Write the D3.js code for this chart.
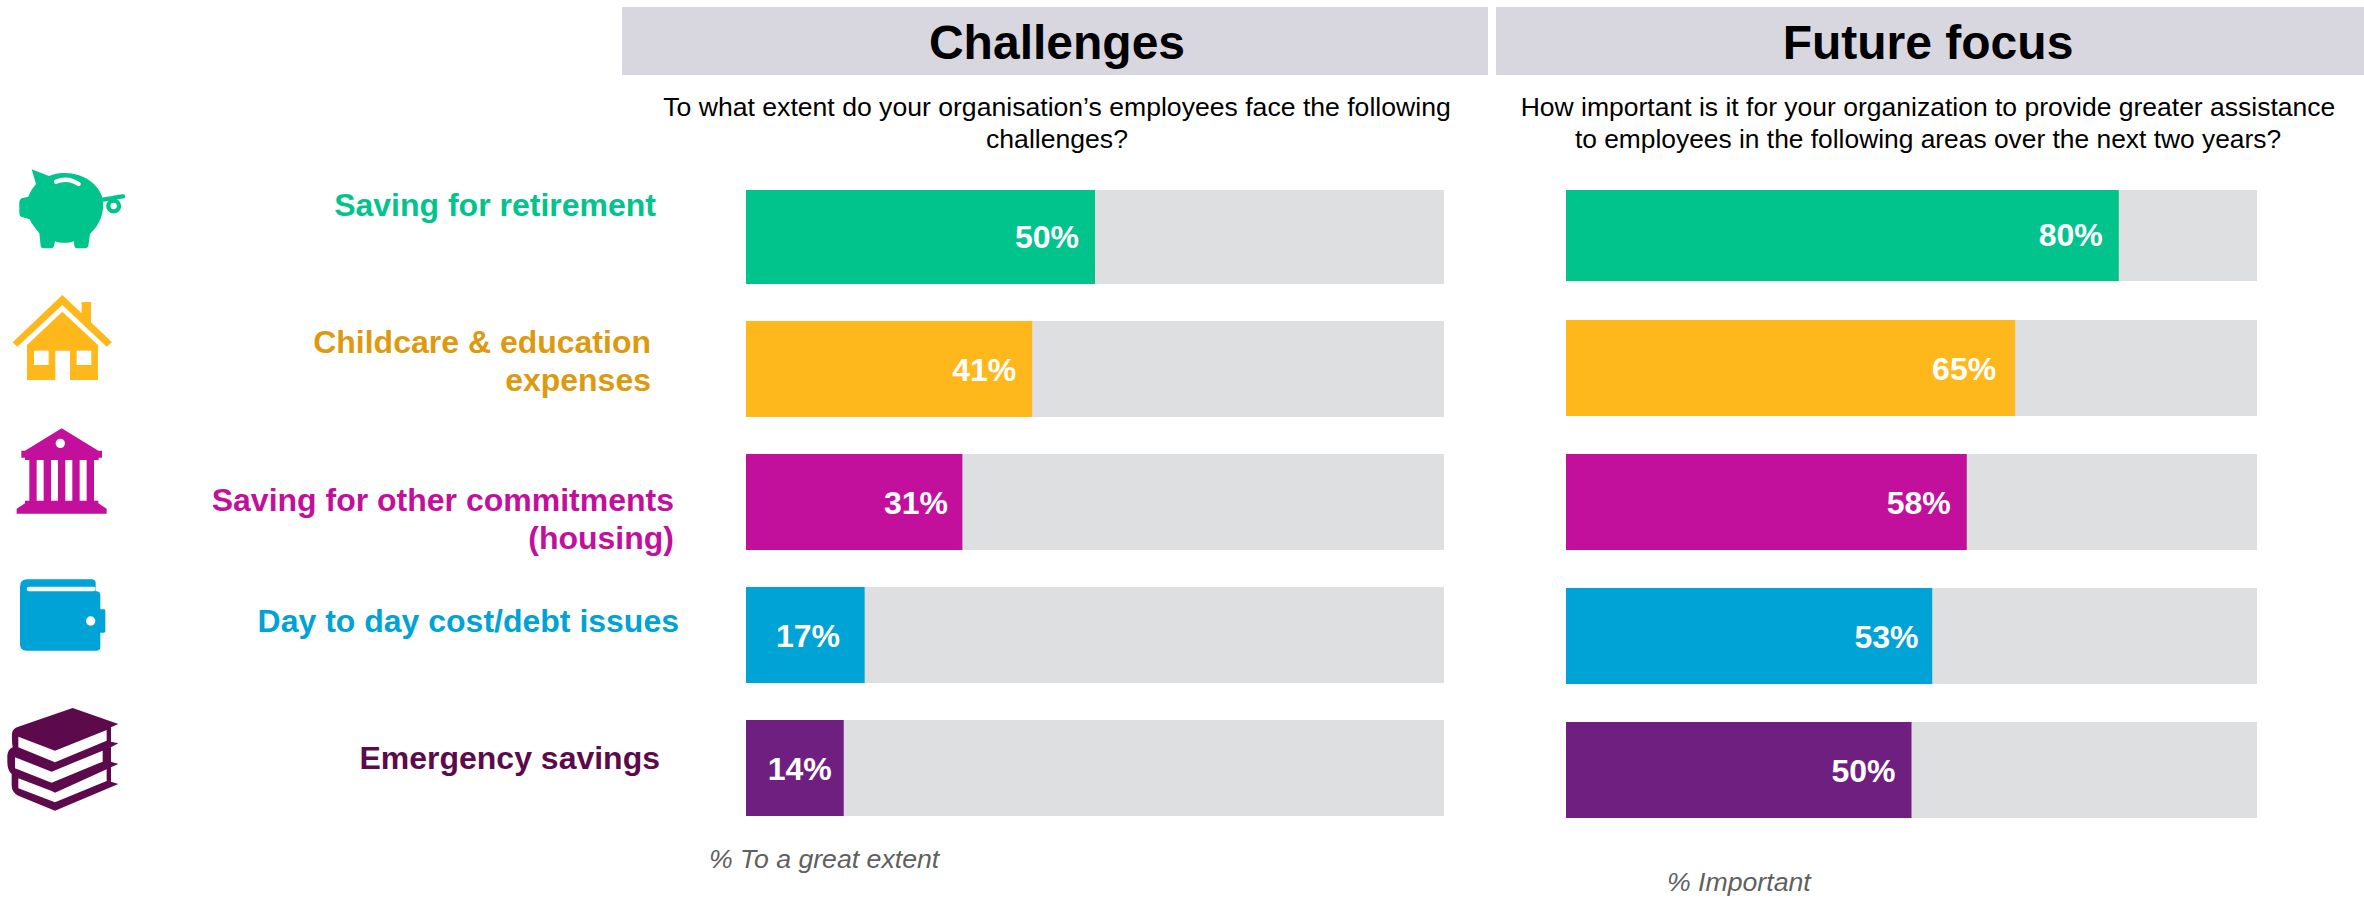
<!DOCTYPE html>
<html>
<head>
<meta charset="utf-8">
<script src="https://cdn.jsdelivr.net/npm/d3@7"></script>
<style>
  html, body { margin: 0; padding: 0; background: #fff; }
  svg { display: block; }
  text { font-family: "Liberation Sans", Arial, sans-serif; }
</style>
</head>
<body>
<svg id="chart" width="2364" height="898"></svg>
<script>
// Survey categories and results
const categories = ["Saving for retirement", "Childcare & education expenses", "Saving for other commitments (housing)", "Day to day cost/debt issues", "Emergency savings"];
const labelLines = [["Saving for retirement"], ["Childcare & education", "expenses"], ["Saving for other commitments", "(housing)"], ["Day to day cost/debt issues"], ["Emergency savings"]];
const challengeValues = [50, 41, 31, 17, 14];
const futureValues = [80, 65, 58, 53, 50];
const barColors = ["#00C48C", "#FFB81C", "#C2109C", "#00A3D6", "#6F1F7F"];
const labelColors = ["#00C48C", "#DD9A0E", "#C2109C", "#00A3D6", "#5C0A4B"];
const iconColors = ["#00C48C", "#FFB81C", "#C2109C", "#00A3D6", "#5C0A4B"];

const svg = d3.select("#chart");

// One panel: header band, question text, track bars, value bars and footnote.
// The first row is slightly shorter than the others, hence firstRowClip [top, bottom].
const panels = [
  { title: "Challenges", values: challengeValues, band: [622, 1488], cx: 1057, xr: [746, 1444], yr: [188, 816], pad: 37 / 133,
    question: ["To what extent do your organisation\u2019s employees face the following", "challenges?"],
    questionSize: [26.6, 26.6], note: "% To a great extent", noteX: 709, noteY: 868,
    firstRowClip: [2, 0], valueNudge: [0, 0, 1.6, -8.7, 4] },
  { title: "Future focus", values: futureValues, band: [1496, 2364], cx: 1928, xr: [1566, 2257], yr: [186, 818], pad: 38 / 134,
    question: ["How important is it for your organization to provide greater assistance", "to employees in the following areas over the next two years?"],
    questionSize: [26.5, 26.37], note: "% Important", noteX: 1667, noteY: 891,
    firstRowClip: [4, 1], valueNudge: [0, -3, 0, 2.3, 0] }
];

panels.forEach(p => {
  const g = svg.append("g");
  g.append("rect").attr("x", p.band[0]).attr("y", 7)
    .attr("width", p.band[1] - p.band[0]).attr("height", 68).attr("fill", "#D8D7E0");
  g.append("text").attr("x", p.cx).attr("y", 59).attr("text-anchor", "middle")
    .attr("font-size", 48).attr("font-weight", 700).attr("fill", "#000").text(p.title);
  g.selectAll("text.q").data(p.question).join("text").attr("class", "q")
    .attr("x", p.cx).attr("y", (d, i) => 116 + i * 32).attr("text-anchor", "middle")
    .attr("font-size", (d, i) => p.questionSize[i]).attr("fill", "#000").text(d => d);

  const x = d3.scaleLinear().domain([0, 100]).range(p.xr);
  const y = d3.scaleBand().domain(categories).range(p.yr).paddingInner(p.pad);
  const rowTop = i => y(categories[i]) + (i === 0 ? p.firstRowClip[0] : 0);
  const rowH = i => y.bandwidth() - (i === 0 ? p.firstRowClip[0] + p.firstRowClip[1] : 0);

  g.selectAll("rect.track").data(categories).join("rect").attr("class", "track")
    .attr("x", x(0)).attr("y", (d, i) => rowTop(i))
    .attr("width", x(100) - x(0)).attr("height", (d, i) => rowH(i)).attr("fill", "#DEDFE1");
  g.selectAll("rect.value").data(p.values).join("rect").attr("class", "value")
    .attr("x", x(0)).attr("y", (d, i) => rowTop(i))
    .attr("width", d => x(d) - x(0)).attr("height", (d, i) => rowH(i))
    .attr("fill", (d, i) => barColors[i]);
  g.selectAll("text.val").data(p.values).join("text").attr("class", "val")
    .attr("x", (d, i) => x(d) - 16 + p.valueNudge[i])
    .attr("y", (d, i) => y(categories[i]) + y.bandwidth() / 2 + 12)
    .attr("text-anchor", "end").attr("font-size", 32).attr("font-weight", 700).attr("fill", "#fff")
    .text(d => d + "%");
  g.append("text").attr("x", p.noteX).attr("y", p.noteY)
    .attr("font-size", 26.67).attr("font-style", "italic").attr("fill", "#5F5F5F").text(p.note);
});

// Row labels, right aligned per row as set in the layout
const labelRight = [656, 651, 674, 679, 660];
const labelBase = [216, 353, 511, 632, 769];
labelLines.forEach((lines, i) => {
  svg.append("g").selectAll("text").data(lines).join("text")
    .attr("x", labelRight[i]).attr("y", (d, j) => labelBase[i] + j * 38)
    .attr("text-anchor", "end").attr("font-size", 32).attr("font-weight", 700)
    .attr("fill", labelColors[i]).text(d => d);
});

// Category icons, outlined on a 3x grid and scaled down
const icons = svg.append("g").attr("id", "icons");

const pig = icons.append("g").attr("transform", "translate(0,140) scale(0.3333)").attr("fill", iconColors[0]);
pig.append("path").attr("d", "M95,88 L147,108 C165,100 180,98 195,99 C250,100 295,130 308,175 C315,215 300,255 270,282 L265,318 Q263,325 255,325 L232,325 Q225,325 223,318 L222,304 C205,310 180,310 165,304 L162,318 Q160,325 152,325 L130,325 Q124,325 122,318 L118,280 C105,265 95,252 89,238 L68,232 Q58,230 58,220 L58,188 Q58,176 68,174 L85,170 C90,155 98,145 108,132 Z");
pig.append("path").attr("d", "M168,125 C190,116 215,118 236,132").attr("fill", "none").attr("stroke", "#fff").attr("stroke-width", 13).attr("stroke-linecap", "round");
pig.append("path").attr("d", "M305,180 C325,176 345,172 369,169").attr("fill", "none").attr("stroke", iconColors[0]).attr("stroke-width", 13).attr("stroke-linecap", "round");
pig.append("circle").attr("cx", 341).attr("cy", 198).attr("r", 16).attr("fill", "#fff").attr("stroke", iconColors[0]).attr("stroke-width", 13);

const house = icons.append("g").attr("transform", "translate(0,140) scale(0.3333)").attr("fill", iconColors[1]);
house.append("path").attr("d", "M38,607 L187,465 L245,520 L245,486 L273,486 L273,547 L336,607 L320,620 L187,495 L52,620 Z");
house.append("path").attr("d", "M81,615 L187,515 L294,615 L294,720 L210,720 L210,632 L166,632 L166,720 L81,720 Z");
house.append("rect").attr("x", 102).attr("y", 632).attr("width", 44).attr("height", 43).attr("fill", "#fff");
house.append("rect").attr("x", 230).attr("y", 632).attr("width", 44).attr("height", 43).attr("fill", "#fff");

const bank = icons.append("g").attr("transform", "translate(0,400) scale(0.3333)").attr("fill", iconColors[2]);
bank.append("path").attr("d", "M185,85 L295,152 L306,152 L306,173 L296,173 L296,180 L75,180 L75,173 L64,173 L64,152 L75,152 Z");
bank.append("circle").attr("cx", 181).attr("cy", 130).attr("r", 14).attr("fill", "#fff");
[88, 131, 174, 217, 260].forEach(cx => {
  bank.append("rect").attr("x", cx).attr("y", 178).attr("width", 22).attr("height", 126);
});
bank.append("path").attr("d", "M75,302 L295,302 L295,310 L320,326 L320,341 L50,341 L50,326 L75,310 Z");

const wallet = icons.append("g").attr("transform", "translate(0,400) scale(0.3333)").attr("fill", iconColors[3]);
wallet.append("path").attr("d", "M60,560 Q60,538 82,538 L275,538 Q287,538 287,550 L287,574 L289,574 Q301,574 301,586 L301,740 Q301,752 289,752 L80,752 Q60,752 60,732 Z");
wallet.append("rect").attr("x", 80).attr("y", 560).attr("width", 207).attr("height", 14).attr("rx", 7).attr("fill", "#fff");
wallet.append("rect").attr("x", 295).attr("y", 628).attr("width", 21).attr("height", 70).attr("rx", 4);
wallet.append("circle").attr("cx", 272).attr("cy", 663).attr("r", 14).attr("fill", "#fff");

const books = icons.append("g").attr("transform", "translate(0,400) scale(0.3333)").attr("fill", iconColors[4]);
books.append("path").attr("d", "M218,924 L355,972 L333,982 L333,1025 L355,1030 L333,1042 L333,1085 L355,1092 L333,1102 L333,1145 L355,1152 L165,1232 L55,1187 Q35,1178 35,1155 L35,1122 Q22,1112 22,1085 L22,1065 Q24,1048 38,1042 Q35,1025 36,1000 Q38,985 55,980 Z");
["M55,1010 L165,1052 L320,990 L320,1022 L165,1087 L55,1042 Z",
 "M45,1072 L155,1115 L308,1052 L308,1085 L155,1148 L45,1105 Z",
 "M55,1135 L155,1173 L165,1178 L320,1108 L320,1143 L165,1207 L55,1165 Z"].forEach(d => {
  books.append("path").attr("d", d).attr("fill", "#fff");
});
</script>
</body>
</html>
